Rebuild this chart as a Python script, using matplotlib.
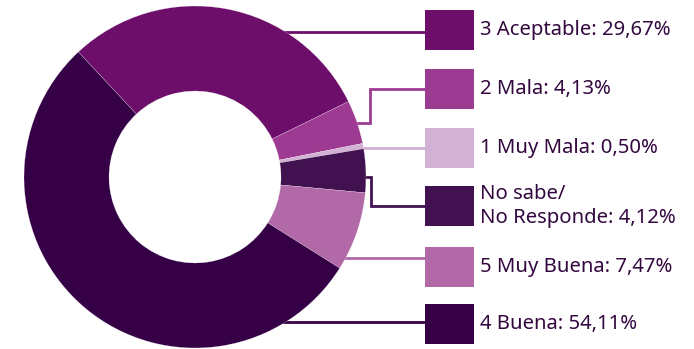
import matplotlib.pyplot as plt
import numpy as np

# Datos
labels = ['3 Aceptable', '2 Mala', '1 Muy Mala', 'No sabe/\nNo Responde', '5 Muy Buena', '4 Buena']
values = [29.67, 4.13, 0.50, 4.12, 7.47, 54.11]
colors = ['#6c0e6a', '#9d3b92', '#d2b1d4', '#421150', '#b269a8', '#360046']
text_color = '#33083f'

W, H = 694, 349
cx, cy, r_out, r_in = 195, 177, 171, 86

fig = plt.figure(figsize=(W / 100, H / 100), dpi=100)
ax = fig.add_axes([0, 0, 1, 1])

# donut (y invertido -> counterclock=True da sentido horario en pantalla)
ax.pie(values, colors=colors, startangle=-133, counterclock=True,
       center=(cx, cy), radius=r_out, frame=True,
       wedgeprops=dict(width=r_out - r_in, edgecolor='white', linewidth=0.15))
ax.set_xlim(0, W)
ax.set_ylim(H, 0)
ax.set_aspect('equal')
ax.axis('off')

# leyenda con conectores
box_x, box_w, box_h = 425, 49, 40
box_tops = [10, 69, 128, 186, 247, 304]
# y de salida en el anillo y x del codo por etiqueta
line_start = [32, 123, 148, 177, 258, 322]
elbow_x = [None, 370, None, 371, None, None]

for i, lab in enumerate(labels):
    yc = box_tops[i] + box_h / 2
    y0 = line_start[i]
    x0 = cx + np.sqrt(max(r_out ** 2 - (y0 - cy) ** 2, 0)) - 3
    if elbow_x[i] is None:
        xs, ys = [x0, box_x], [y0, y0]
    else:
        xs = [x0, elbow_x[i], elbow_x[i], box_x]
        ys = [y0, y0, yc, yc]
    ax.plot(xs, ys, color=colors[i], lw=2, zorder=0, solid_joinstyle='miter')
    ax.add_patch(plt.Rectangle((box_x, box_tops[i]), box_w, box_h,
                               facecolor=colors[i], edgecolor='none'))
    ax.text(480, yc, f'{lab}: {values[i]:.2f}%'.replace('.', ','),
            va='center', ha='left', fontsize=14.6, color=text_color,
            family='Noto Sans', linespacing=1.3)

fig.savefig('out.png', dpi=100)
